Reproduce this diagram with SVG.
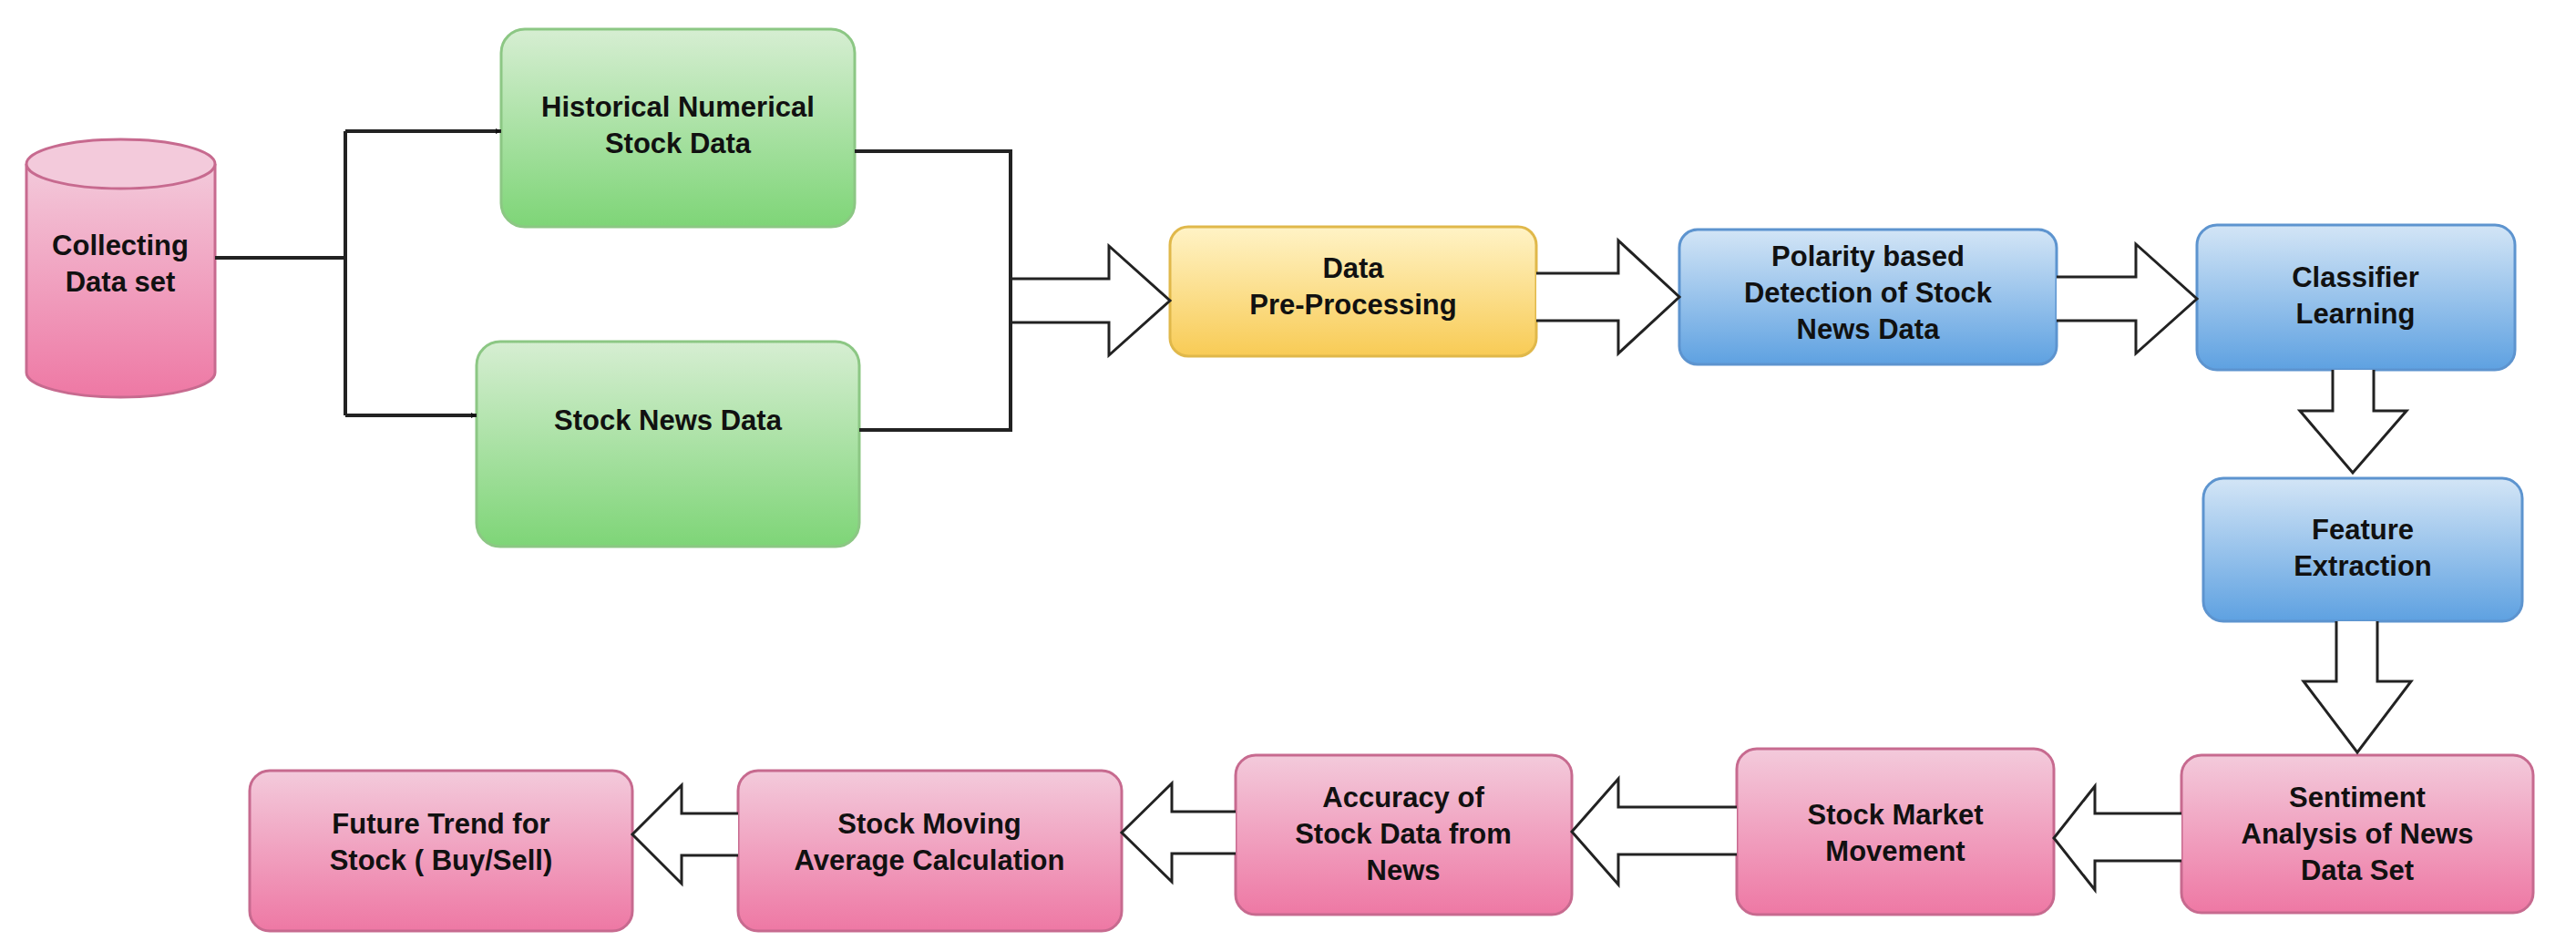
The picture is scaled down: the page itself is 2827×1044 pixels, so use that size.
<svg xmlns="http://www.w3.org/2000/svg" width="2827" height="1044" viewBox="0 0 2827 1044">
<defs>
<linearGradient id="gG" x1="0" y1="0" x2="0" y2="1"><stop offset="0" stop-color="#d6eed2"/><stop offset="1" stop-color="#7ed577"/></linearGradient>
<linearGradient id="gP" x1="0" y1="0" x2="0" y2="1"><stop offset="0" stop-color="#f3cadb"/><stop offset="1" stop-color="#ee78a4"/></linearGradient>
<linearGradient id="gB" x1="0" y1="0" x2="0" y2="1"><stop offset="0" stop-color="#d3e5f6"/><stop offset="1" stop-color="#5ea1e1"/></linearGradient>
<linearGradient id="gY" x1="0" y1="0" x2="0" y2="1"><stop offset="0" stop-color="#fff3c6"/><stop offset="1" stop-color="#f8cb55"/></linearGradient>
<marker id="ah" viewBox="0 0 10 10" refX="10" refY="5" markerWidth="6" markerHeight="6" orient="auto" markerUnits="userSpaceOnUse"><path d="M0,0 L10,5 L0,10 z" fill="#111"/></marker>
</defs>
<style>
text{font-family:"Liberation Sans",Arial,sans-serif;font-weight:bold;font-size:31px;fill:#111;text-anchor:middle}
.g{fill:url(#gG);stroke:#8cc784;stroke-width:3}
.p{fill:url(#gP);stroke:#c76a8f;stroke-width:3}
.b{fill:url(#gB);stroke:#5d94cf;stroke-width:3}
.y{fill:url(#gY);stroke:#e0b84a;stroke-width:3}
.ln{fill:none;stroke:#222;stroke-width:4}
.ba{fill:#fff;stroke:#222;stroke-width:3;stroke-linejoin:miter}
</style>
<rect width="2827" height="1044" fill="#fff"/>
<g id="collecting">
<path class="p" d="M29,180 L29,409 A103.5,27 0 0 0 236,409 L236,180"/>
<ellipse class="p" cx="132.5" cy="180" rx="103.5" ry="27" style="fill:#f3cadb"/>
<text x="132" y="280">Collecting</text><text x="132" y="320">Data set</text>
</g>
<g id="historical"><rect class="g" x="550" y="32" width="388" height="217" rx="26"/>
<text x="744" y="128">Historical Numerical</text><text x="744" y="168">Stock  Data</text></g>
<g id="news"><rect class="g" x="523" y="375" width="420" height="225" rx="26"/>
<text x="733" y="472">Stock News Data</text></g>
<g id="prep"><rect class="y" x="1284" y="249" width="402" height="142" rx="20"/>
<text x="1485" y="305">Data</text><text x="1485" y="345">Pre-Processing</text></g>
<g id="polarity"><rect class="b" x="1843" y="252" width="414" height="148" rx="20"/>
<text x="2050" y="292">Polarity based</text><text x="2050" y="332">Detection of Stock</text><text x="2050" y="372">News  Data</text></g>
<g id="classifier"><rect class="b" x="2411" y="247" width="349" height="159" rx="22"/>
<text x="2585" y="315">Classifier</text><text x="2585" y="355">Learning</text></g>
<g id="feature"><rect class="b" x="2418" y="525" width="350" height="157" rx="22"/>
<text x="2593" y="592">Feature</text><text x="2593" y="632">Extraction</text></g>
<g id="sentiment"><rect class="p" x="2394" y="829" width="386" height="173" rx="22"/>
<text x="2587" y="886">Sentiment</text><text x="2587" y="926">Analysis of News</text><text x="2587" y="966">Data Set</text></g>
<g id="market"><rect class="p" x="1906" y="822" width="348" height="182" rx="22"/>
<text x="2080" y="905">Stock Market</text><text x="2080" y="945">Movement</text></g>
<g id="accuracy"><rect class="p" x="1356" y="829" width="369" height="175" rx="22"/>
<text x="1540" y="886">Accuracy of</text><text x="1540" y="926">Stock Data from</text><text x="1540" y="966">News</text></g>
<g id="moving"><rect class="p" x="810" y="846" width="421" height="176" rx="22"/>
<text x="1020" y="915">Stock Moving</text><text x="1020" y="955">Average Calculation</text></g>
<g id="future"><rect class="p" x="274" y="846" width="420" height="176" rx="22"/>
<text x="484" y="915">Future Trend for</text><text x="484" y="955">Stock ( Buy/Sell)</text></g>
<g id="connectors">
<path class="ln" d="M236,283 H379"/>
<path class="ln" d="M379,144 V456"/>
<path class="ln" d="M379,144 H550" marker-end="url(#ah)"/>
<path class="ln" d="M379,456 H523" marker-end="url(#ah)"/>
<path class="ln" d="M938,166 H1109 M943,472 H1109 M1109,164 V474"/>
<path class="ba" d="M1111,306 H1217 V270 L1284,330 L1217,390 V354 H1111"/>
<path class="ba" d="M1686,300 H1776 V264 L1843,326 L1776,388 V352 H1686"/>
<path class="ba" d="M2257,304 H2344 V268 L2411,328 L2344,388 V352 H2257"/>
<path class="ba" d="M2560,406 V451 H2524 L2582,519 L2641,451 H2605 V406"/>
<path class="ba" d="M2564,682 V748 H2528 L2587,826 L2646,748 H2609 V682"/>
<path class="ba" d="M2394,893 H2299 V863 L2254,920 L2299,977 V945 H2394"/>
<path class="ba" d="M1906,886 H1776 V855 L1725,913 L1776,971 V938 H1906"/>
<path class="ba" d="M1356,891 H1286 V860 L1231,914 L1286,968 V937 H1356"/>
<path class="ba" d="M810,893 H748 V862 L694,916 L748,970 V939 H810"/>
</g>
</svg>
